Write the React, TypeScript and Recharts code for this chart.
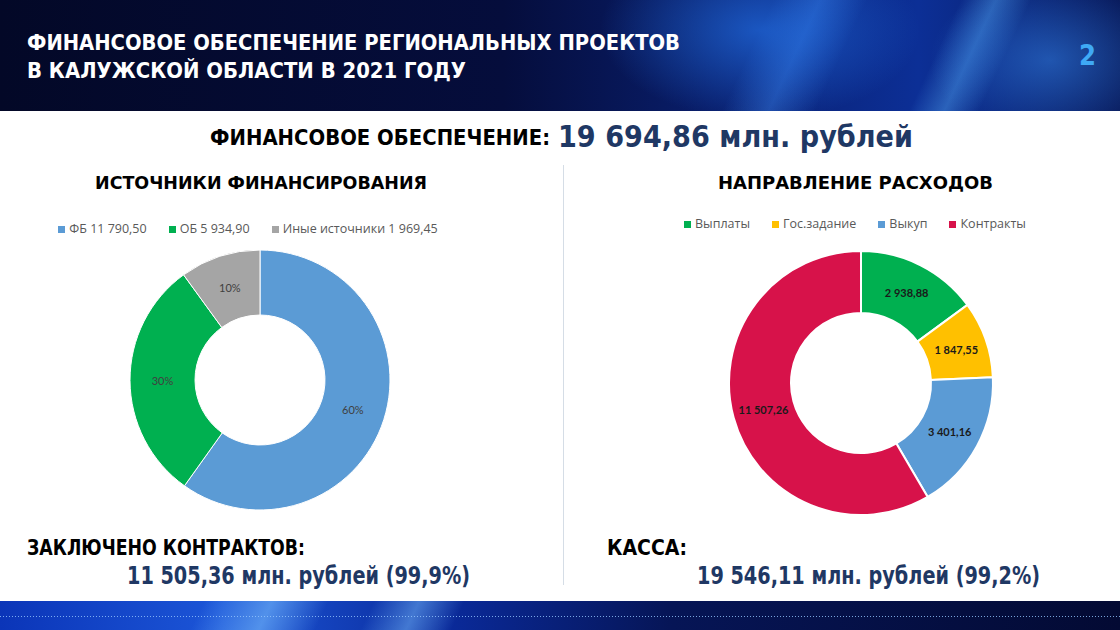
import React from 'react';
import { PieChart, Pie, Cell, Legend } from 'recharts';

// sources of financing, млн. рублей
const sourceNames = ['ФБ', 'ОБ', 'Иные источники'];
const sourceValues = [11790.5, 5934.9, 1969.45];
const sourceColors = ['#5B9BD5', '#00B050', '#A5A5A5'];

// directions of expenses, млн. рублей
const expenseNames = ['Выплаты', 'Гос.задание', 'Выкуп', 'Контракты'];
const expenseValues = [2938.88, 1847.55, 3401.16, 11507.26];
const expenseColors = ['#00B050', '#FFC000', '#5B9BD5', '#D7124A'];

const RADIAN = Math.PI / 180;
const COND = '"Liberation Sans Narrow", "DejaVu Sans Condensed", "Roboto Condensed", sans-serif';
const ROUND = '"DejaVu Sans", "Noto Sans", sans-serif';
const NAVY = '#1F3864';

function fmt(v: number): string {
  const [i, d] = v.toFixed(2).split('.');
  return i.replace(/\B(?=(\d{3})+(?!\d))/g, ' ') + ',' + d;
}

const sourceData = sourceNames.map((n, i) => ({ name: `${n} ${fmt(sourceValues[i])}`, value: sourceValues[i] }));
const expenseData = expenseNames.map((n, i) => ({ name: n, value: expenseValues[i] }));

function labelPos(p: any) {
  const r = (p.innerRadius + p.outerRadius) / 2;
  return {
    x: p.cx + r * Math.cos(-p.midAngle * RADIAN),
    y: p.cy + r * Math.sin(-p.midAngle * RADIAN),
  };
}

const percentLabel = (p: any) => {
  const { x, y } = labelPos(p);
  return (
    <text x={x} y={y} textAnchor="middle" dominantBaseline="central" fontSize={11} fill="#404040" fontFamily="Lato, sans-serif">
      {Math.round(p.percent * 100)}%
    </text>
  );
};

const valueLabel = (p: any) => {
  const { x, y } = labelPos(p);
  return (
    <text x={x} y={y} textAnchor="middle" dominantBaseline="central" fontSize={11} fontWeight="bold" fill="#1a1a1a" fontFamily="Lato, sans-serif">
      {fmt(p.value)}
    </text>
  );
};

const legendText = (value: string) => (
  <span style={{ color: '#595959', fontSize: 12.5, fontFamily: '"Open Sans", sans-serif', marginRight: 12 }}>{value}</span>
);

function T({ x, y, w, size, fill = '#000', family = COND, children }: any) {
  return (
    <text x={x} y={y} fontSize={size} fill={fill} fontFamily={family} fontWeight="bold" textLength={w} lengthAdjust="spacingAndGlyphs">
      {children}
    </text>
  );
}

export default function App() {
  return (
    <div style={{ position: 'fixed', left: 0, top: 0, width: 1120, height: 630, background: '#fff', overflow: 'hidden' }}>
      {/* header band */}
      <div
        style={{
          position: 'absolute', left: 0, top: 0, width: 1120, height: 111,
          background:
            'radial-gradient(ellipse 160px 90px at 760px 30px, rgba(40,130,255,0.55), transparent), ' +
            'radial-gradient(ellipse 120px 80px at 1050px 60px, rgba(60,150,255,0.45), transparent), ' +
            'linear-gradient(115deg, transparent 66%, rgba(70,150,255,0.35) 70%, transparent 74%, transparent 82%, rgba(90,180,255,0.4) 85%, transparent 88%), ' +
            'linear-gradient(90deg, #030827 0%, #050d3c 45%, #0a2276 68%, #0c2f96 82%, #08195a 100%)',
        }}
      />
      {/* footer band */}
      <div
        style={{
          position: 'absolute', left: 0, top: 601, width: 1120, height: 29,
          background:
            'linear-gradient(115deg, transparent 18%, rgba(120,190,255,0.6) 24%, transparent 29%, transparent 33%, rgba(120,190,255,0.5) 37%, transparent 41%), ' +
            'linear-gradient(90deg, #0b35b8 0%, #1c56d8 20%, #0a2a9a 40%, #061556 60%, #030a33 100%)',
        }}
      />
      <div
        style={{
          position: 'absolute', left: 0, top: 616, width: 1120, height: 1,
          background: 'repeating-linear-gradient(90deg, rgba(150,200,255,0.8) 0 1px, transparent 1px 3px)',
        }}
      />
      {/* divider */}
      <div style={{ position: 'absolute', left: 563, top: 165, width: 1, height: 420, background: '#d5dde6' }} />

      {/* left donut */}
      <div style={{ position: 'absolute', left: 0, top: 200 }}>
        <PieChart width={520} height={360}>
          <Pie
            data={sourceData}
            dataKey="value"
            nameKey="name"
            cx={255}
            cy={175}
            innerRadius={65}
            outerRadius={130}
            startAngle={90}
            endAngle={-270}
            stroke="#ffffff"
            strokeWidth={1}
            label={percentLabel}
            labelLine={false}
            isAnimationActive={false}
          >
            {sourceColors.map((c, i) => (
              <Cell key={i} fill={c} />
            ))}
          </Pie>
          <Legend
            layout="horizontal"
            verticalAlign="middle"
            align="center"
            iconType="square"
            iconSize={7}
            itemSorter={null}
            formatter={legendText}
            wrapperStyle={{ top: 19, left: 6, width: 506 }}
          />
        </PieChart>
      </div>

      {/* right donut */}
      <div style={{ position: 'absolute', left: 560, top: 200 }}>
        <PieChart width={560} height={360}>
          <Pie
            data={expenseData}
            dataKey="value"
            nameKey="name"
            cx={296}
            cy={178}
            innerRadius={70}
            outerRadius={132}
            startAngle={90}
            endAngle={-270}
            stroke="#ffffff"
            strokeWidth={2}
            label={valueLabel}
            labelLine={false}
            isAnimationActive={false}
          >
            {expenseColors.map((c, i) => (
              <Cell key={i} fill={c} />
            ))}
          </Pie>
          <Legend
            layout="horizontal"
            verticalAlign="middle"
            align="center"
            iconType="square"
            iconSize={7}
            itemSorter={null}
            formatter={legendText}
            wrapperStyle={{ top: 14, left: 6, width: 600 }}
          />
        </PieChart>
      </div>

      {/* texts */}
      <svg width={1120} height={630} style={{ position: 'absolute', left: 0, top: 0, pointerEvents: 'none' }}>
        <T x={27} y={50} w={653} size={22} fill="#fff">ФИНАНСОВОЕ ОБЕСПЕЧЕНИЕ РЕГИОНАЛЬНЫХ ПРОЕКТОВ</T>
        <T x={27} y={78} w={439} size={22} fill="#fff">В КАЛУЖСКОЙ ОБЛАСТИ В 2021 ГОДУ</T>
        <T x={1079} y={65} w={17} size={28} fill="#3FA9F5" family={ROUND}>2</T>

        <T x={210} y={145} w={340} size={21} family={ROUND}>ФИНАНСОВОЕ ОБЕСПЕЧЕНИЕ:</T>
        <T x={558} y={147} w={355} size={30} fill={NAVY} family={ROUND}>19 694,86 млн. рублей</T>

        <T x={95} y={189} w={332} size={17} family={ROUND}>ИСТОЧНИКИ ФИНАНСИРОВАНИЯ</T>
        <T x={718} y={189} w={275} size={17} family={ROUND}>НАПРАВЛЕНИЕ РАСХОДОВ</T>

        <T x={27} y={555} w={278} size={21}>ЗАКЛЮЧЕНО КОНТРАКТОВ:</T>
        <T x={127} y={584} w={343} size={24} fill={NAVY}>11 505,36 млн. рублей (99,9%)</T>
        <T x={607} y={555} w={80} size={21}>КАССА:</T>
        <T x={697} y={584} w={343} size={24} fill={NAVY}>19 546,11 млн. рублей (99,2%)</T>
      </svg>
    </div>
  );
}
